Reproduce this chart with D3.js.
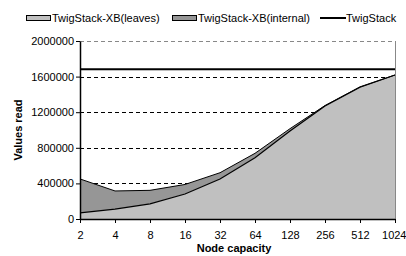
<!DOCTYPE html>
<html>
<head>
<meta charset="utf-8">
<script src="https://cdn.jsdelivr.net/npm/d3@7"></script>
<style>
  body { margin: 0; background: #fff; }
  text { font-family: "Liberation Sans", Arial, sans-serif; }
</style>
</head>
<body>
<div id="chart"></div>
<script>
const capacities = ["2", "4", "8", "16", "32", "64", "128", "256", "512", "1024"];
const leaves = [68000, 110000, 170000, 281000, 449000, 689000, 989000, 1270000, 1480000, 1618000];
const total = [450000, 315000, 322000, 388000, 520000, 738000, 1015000, 1275000, 1485000, 1618000];
const twigStack = 1682000;
const yTicks = [0, 400000, 800000, 1200000, 1600000, 2000000];

const width = 406, height = 256;
const svg = d3.select("#chart").append("svg")
    .attr("width", width).attr("height", height);

const x = d3.scalePoint().domain(capacities).range([80, 395]);
const y = d3.scaleLinear().domain([0, 2000000]).range([219, 41]);

// grid lines (dashed), top one grey
svg.append("g").selectAll("line")
    .data(yTicks.filter(d => d > 0))
    .join("line")
    .attr("x1", 80).attr("x2", 395)
    .attr("y1", d => Math.round(y(d)) + 0.5).attr("y2", d => Math.round(y(d)) + 0.5)
    .attr("stroke", d => d === 2000000 ? "#888" : "#000")
    .attr("stroke-dasharray", "4,3")
    .attr("stroke-width", 1);

// right border
svg.append("line")
    .attr("x1", 395.5).attr("x2", 395.5)
    .attr("y1", y(2000000)).attr("y2", y(0))
    .attr("stroke", "#888");

const rows = capacities.map((c, i) => ({ c, leaves: leaves[i], total: total[i] }));

const areaInternal = d3.area()
    .x(d => x(d.c)).y0(d => y(d.leaves)).y1(d => y(d.total));
const areaLeaves = d3.area()
    .x(d => x(d.c)).y0(y(0)).y1(d => y(d.leaves));

svg.append("path").datum(rows).attr("d", areaInternal).attr("fill", "#969696");
svg.append("path").datum(rows).attr("d", areaLeaves).attr("fill", "#c0c0c0");

const lineTotal = d3.line().x(d => x(d.c)).y(d => y(d.total));
const lineLeaves = d3.line().x(d => x(d.c)).y(d => y(d.leaves));
svg.append("path").datum(rows).attr("d", lineTotal)
    .attr("fill", "none").attr("stroke", "#000").attr("stroke-width", 1);
svg.append("path").datum(rows).attr("d", lineLeaves)
    .attr("fill", "none").attr("stroke", "#000").attr("stroke-width", 1.2);

// TwigStack line
svg.append("line")
    .attr("x1", 80).attr("x2", 395)
    .attr("y1", y(twigStack)).attr("y2", y(twigStack))
    .attr("stroke", "#000").attr("stroke-width", 2);

// axes
const yAxis = svg.append("g")
    .attr("transform", "translate(80,0)")
    .call(d3.axisLeft(y).tickValues(yTicks).tickSize(4).tickSizeOuter(0).tickFormat(d3.format("d")));
const xAxis = svg.append("g")
    .attr("transform", `translate(0,${y(0)})`)
    .call(d3.axisBottom(x).tickSize(4).tickSizeOuter(0));

[yAxis, xAxis].forEach(g => {
    g.select(".domain").attr("stroke", "#000").attr("stroke-width", 1.5);
    g.selectAll(".tick line").attr("stroke", "#000");
    g.selectAll("text").attr("font-size", 11).attr("fill", "#000");
});
yAxis.selectAll("text").attr("x", -6);
xAxis.selectAll("text").attr("y", 12);
// last label sits against the right edge, like the original
xAxis.selectAll(".tick text").filter(d => d === "1024")
    .attr("text-anchor", "end").attr("x", 11);

// axis titles
svg.append("text")
    .attr("x", 234).attr("y", 252)
    .attr("text-anchor", "middle")
    .attr("font-size", 11).attr("font-weight", "bold")
    .text("Node capacity");
svg.append("text")
    .attr("transform", "translate(22,130) rotate(-90)")
    .attr("text-anchor", "middle")
    .attr("font-size", 11).attr("font-weight", "bold")
    .text("Values read");

// legend
const legend = svg.append("g");
const legendItems = [
    { label: "TwigStack-XB(leaves)", type: "box", fill: "#c0c0c0", x: 26 },
    { label: "TwigStack-XB(internal)", type: "box", fill: "#969696", x: 172 },
    { label: "TwigStack", type: "line", x: 320 }
];
legendItems.forEach(d => {
    if (d.type === "box") {
        legend.append("rect")
            .attr("x", d.x + 0.5).attr("y", 15.5)
            .attr("width", 24).attr("height", 5)
            .attr("fill", d.fill).attr("stroke", "#000");
    } else {
        legend.append("line")
            .attr("x1", d.x).attr("x2", d.x + 26)
            .attr("y1", 18).attr("y2", 18)
            .attr("stroke", "#000").attr("stroke-width", 2);
    }
    legend.append("text")
        .attr("x", d.x + 26).attr("y", 22)
        .attr("font-size", 11)
        .text(d.label);
});
</script>
</body>
</html>
